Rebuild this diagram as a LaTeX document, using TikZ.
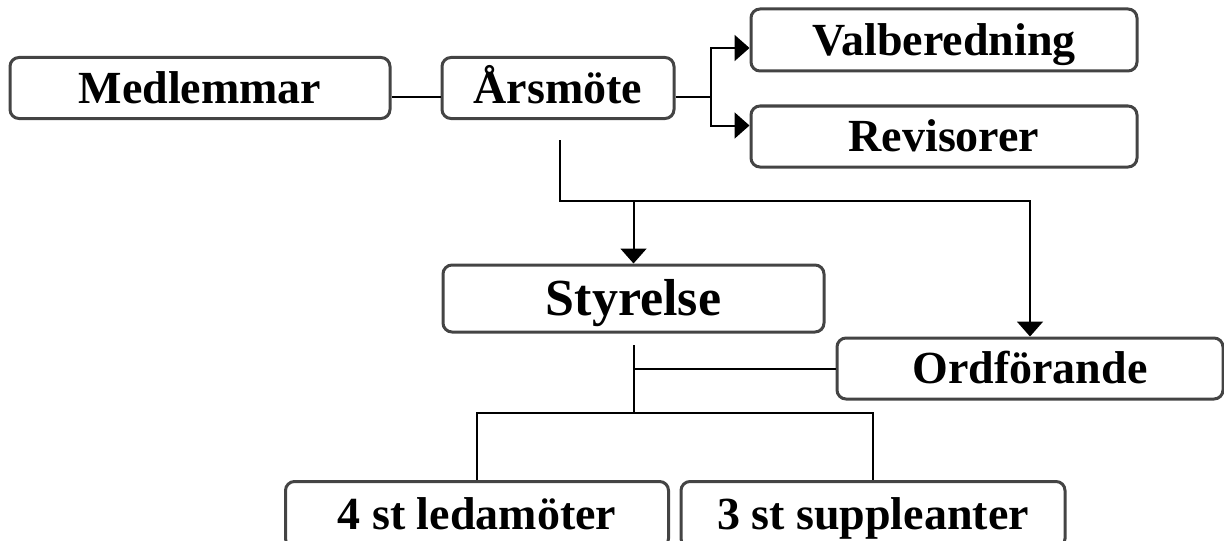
\documentclass[tikz,border=0pt]{standalone}
\usepackage{fontspec}
\setmainfont{Liberation Serif}
\usetikzlibrary{arrows.meta,positioning}
\definecolor{boxgray}{RGB}{68,68,68}

\begin{document}
\begin{tikzpicture}[x=0.5pt,y=-0.5pt,
  box/.style={draw=boxgray,line width=1.5pt,rounded corners=4.5pt,inner sep=0pt,
    minimum height=30.5pt,font=\bfseries\fontsize{23}{26}\selectfont,
    text height=15.2pt,text depth=0pt},
  conn/.style={line width=1pt},
  arr/.style={conn,-{Triangle[length=7.5pt,width=13pt]}}]
\useasboundingbox (0,0) rectangle (1224,540);
\node[box,minimum width=190pt] (medl) at (200,88) {Medlemmar};
\node[box,minimum width=116pt] (arsm) at (558,88) {Årsmöte};
\node[box,minimum width=193pt,minimum height=31pt] (valb) at (944,40) {Valberedning};
\node[box,minimum width=193pt] (revi) at (944,136.5) {Revisorer};
\node[box,minimum width=190.5pt,minimum height=33.5pt,font=\bfseries\fontsize{26}{30}\selectfont,text height=17.2pt] (styr) at (633.5,298.5) {Styrelse};
\node[box,minimum width=193pt] (ordf) at (1030,368.5) {Ordförande};
\node[box,minimum width=191.5pt,minimum height=33pt] (leda) at (477,514.5) {4 st ledamöter};
\node[box,minimum width=192pt,minimum height=33pt] (supp) at (873,514.5) {3 st suppleanter};
\coordinate (split) at (711,97);
\coordinate (top) at (560,140);
\coordinate (bar) at (560,201);
\coordinate (sbot) at (634,345);
\coordinate (sjoin) at (634,413);
\draw[conn] ([yshift=-4.5pt]medl.east) -- ([yshift=-4.5pt]arsm.west);
\draw[conn] ([yshift=-4.5pt]arsm.east) -- (split);
\draw[arr] (split) |- ([yshift=-4pt]valb.west);
\draw[arr] (split) |- ([yshift=5.5pt]revi.west);
\draw[arr] (top) -- (bar) -| (ordf.north);
\draw[arr] (bar -| styr.north) -- (styr.north);
\draw[conn] (sbot) -- (sjoin);
\draw[conn] (sbot |- ordf.west) -- (ordf.west);
\draw[conn] (leda.north) |- (sjoin) -| (supp.north);
\end{tikzpicture}
\end{document}
